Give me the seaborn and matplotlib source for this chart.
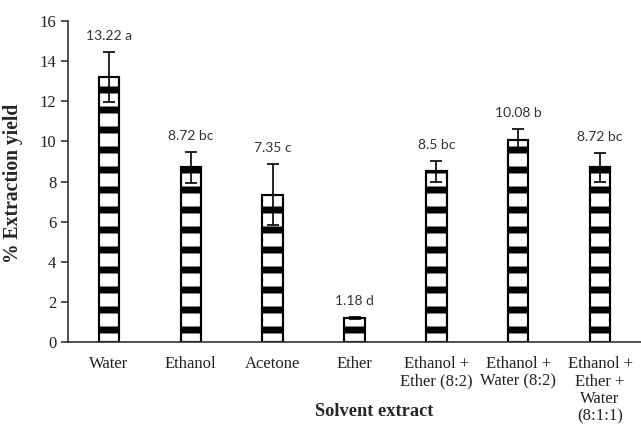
import numpy as np
import matplotlib.pyplot as plt
import pandas as pd
import seaborn as sns

solvents = ["Water", "Ethanol", "Acetone", "Ether",
            "Ethanol +\nEther (8:2)", "Ethanol +\nWater (8:2)",
            "Ethanol +\nEther +\nWater\n(8:1:1)"]
yields = [13.22, 8.72, 7.35, 1.18, 8.5, 10.08, 8.72]
errors = [1.24, 0.77, 1.52, 0.05, 0.5, 0.52, 0.72]
labels = ["13.22 a", "8.72 bc", "7.35 c", "1.18 d", "8.5 bc", "10.08 b", "8.72 bc"]

df = pd.DataFrame({"solvent": solvents, "yield": yields})

sns.set_style("white")
plt.rcParams["hatch.linewidth"] = 4.2
plt.rcParams["hatch.color"] = "black"

fig = plt.figure(figsize=(641 / 120, 425 / 120), dpi=120)
ax = fig.add_axes([68 / 641, 83 / 425, 573 / 641, 321 / 425])

sns.barplot(data=df, x="solvent", y="yield", color="white", edgecolor="black",
            linewidth=1.3, width=0.25, errorbar=None, ax=ax)
for bar in ax.patches:
    bar.set_hatch("-")

ax.errorbar(np.arange(len(yields)), yields, yerr=errors, fmt="none",
            ecolor="black", elinewidth=1.0, capsize=3.5, capthick=1.0)

for i, (v, e, t) in enumerate(zip(yields, errors, labels)):
    ax.annotate(t, (i, v + e), xytext=(0, 6), textcoords="offset points",
                ha="center", va="bottom", fontsize=8.3, family="Lato",
                color="#333333")

ax.set_ylim(0, 16)
ax.set_xlim(-0.5, 6.5)
ax.set_yticks(range(0, 17, 2))
sns.despine(ax=ax)
for s in ["left", "bottom"]:
    ax.spines[s].set_color("#333333")
    ax.spines[s].set_linewidth(1.0)
ax.tick_params(axis="y", left=True, length=4, width=1.0, color="#333333",
               labelsize=10, pad=3)
ax.tick_params(axis="x", bottom=False, labelsize=10, pad=5)
for lab in ax.get_xticklabels() + ax.get_yticklabels():
    lab.set_family("Liberation Serif")
    lab.set_color("#222222")
for lab in ax.get_xticklabels():
    lab.set_linespacing(1.12)

ax.set_xlabel("Solvent extract", family="Liberation Serif", fontweight="bold",
              fontsize=11)
ax.xaxis.set_label_coords(0.534, -0.19)
ax.set_ylabel("% Extraction yield", family="Liberation Serif", fontweight="bold",
              fontsize=11.8)
ax.yaxis.set_label_coords(-0.0785, 0.495)

fig.savefig("out.png", dpi=120)
